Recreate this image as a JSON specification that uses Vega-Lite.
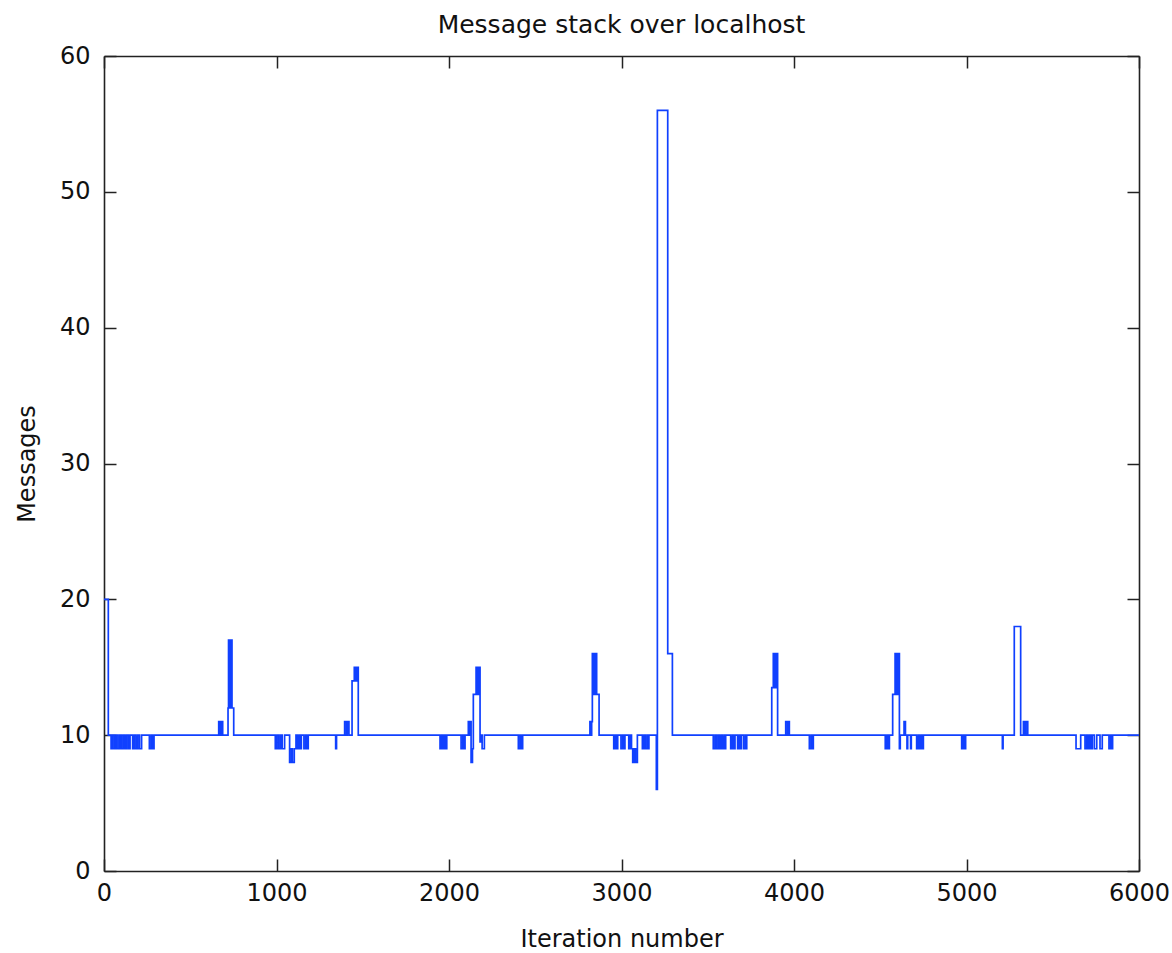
{
  "$schema": "https://vega.github.io/schema/vega-lite/v6.json",
  "autosize": {"type": "none"},
  "padding": {"left": 104, "top": 56, "right": 33, "bottom": 82},
  "width": 1035,
  "height": 815,
  "background": "white",
  "config": {
    "view": {"stroke": null},
    "font": "DejaVu Sans",
    "axis": {"grid": false, "domainColor": "#222", "domainWidth": 1.6, "tickColor": "#222", "tickWidth": 1.5, "labelColor": "#111", "titleColor": "#111", "labelFontSize": 24, "titleFontSize": 24, "titleFontWeight": "normal", "labelFont": "DejaVu Sans", "titleFont": "DejaVu Sans"}
  },
  "title": {"text": "Message stack over localhost", "fontSize": 25, "fontWeight": "normal", "font": "DejaVu Sans", "color": "#111", "offset": 6},
  "data": {"values": [
    {"i":0,"m":20},{"i":25,"m":10},
    {"i":41,"m":9},{"i":51,"m":10},{"i":61,"m":9},{"i":71,"m":10},{"i":81,"m":9},{"i":91,"m":10},{"i":101,"m":9},{"i":111,"m":10},{"i":121,"m":9},{"i":131,"m":10},{"i":141,"m":9},{"i":151,"m":10},
    {"i":166,"m":9},{"i":176,"m":10},{"i":186,"m":9},{"i":196,"m":10},{"i":206,"m":9},{"i":218,"m":10},
    {"i":263,"m":9},{"i":273,"m":10},{"i":280,"m":9},{"i":290,"m":10},
    {"i":665,"m":11},{"i":675,"m":10},{"i":679,"m":11},{"i":688,"m":10},
    {"i":719,"m":12},{"i":722,"m":17},{"i":728,"m":12},{"i":731,"m":17},{"i":737,"m":12},{"i":740,"m":17},{"i":742,"m":12},{"i":752,"m":10},
    {"i":993,"m":9},{"i":1003,"m":10},{"i":1013,"m":9},{"i":1023,"m":10},{"i":1033,"m":9},{"i":1047,"m":10},
    {"i":1076,"m":8},{"i":1086,"m":9},{"i":1092,"m":8},{"i":1103,"m":9},{"i":1113,"m":10},{"i":1121,"m":9},{"i":1131,"m":10},{"i":1136,"m":9},{"i":1144,"m":10},
    {"i":1159,"m":9},{"i":1169,"m":10},{"i":1174,"m":9},{"i":1184,"m":10},
    {"i":1343,"m":9},{"i":1348,"m":10},
    {"i":1395,"m":11},{"i":1405,"m":10},{"i":1410,"m":11},{"i":1420,"m":10},
    {"i":1438,"m":14},{"i":1451,"m":15},{"i":1456,"m":14},{"i":1460,"m":15},{"i":1465,"m":14},{"i":1468,"m":15},{"i":1474,"m":10},
    {"i":1948,"m":9},{"i":1958,"m":10},{"i":1966,"m":9},{"i":1976,"m":10},{"i":1980,"m":9},{"i":1987,"m":10},
    {"i":2070,"m":9},{"i":2080,"m":10},{"i":2085,"m":9},{"i":2093,"m":10},
    {"i":2112,"m":11},{"i":2120,"m":10},{"i":2124,"m":11},{"i":2128,"m":8},{"i":2136,"m":9},{"i":2141,"m":13},{"i":2157,"m":15},{"i":2162,"m":13},{"i":2166,"m":15},{"i":2172,"m":13},{"i":2176,"m":15},{"i":2180,"m":9.5},{"i":2186,"m":10},{"i":2192,"m":9},{"i":2205,"m":10},
    {"i":2402,"m":9},{"i":2412,"m":10},{"i":2417,"m":9},{"i":2427,"m":10},
    {"i":2817,"m":11},{"i":2824,"m":10},{"i":2827,"m":11},{"i":2831,"m":16},{"i":2836,"m":13},{"i":2840,"m":16},{"i":2846,"m":13},{"i":2850,"m":16},{"i":2856,"m":13},{"i":2870,"m":10},
    {"i":2955,"m":9},{"i":2965,"m":10},{"i":2970,"m":9},{"i":2978,"m":10},
    {"i":2997,"m":9},{"i":3007,"m":10},{"i":3012,"m":9},{"i":3020,"m":10},
    {"i":3042,"m":9},{"i":3052,"m":10},{"i":3058,"m":9},{"i":3065,"m":8},{"i":3075,"m":9},{"i":3082,"m":8},{"i":3092,"m":10},
    {"i":3121,"m":9},{"i":3131,"m":10},{"i":3138,"m":9},{"i":3148,"m":10},{"i":3152,"m":9},{"i":3159,"m":10},
    {"i":3202,"m":6},{"i":3208,"m":56},{"i":3268,"m":16},{"i":3295,"m":10},
    {"i":3532,"m":9},{"i":3542,"m":10},{"i":3550,"m":9},{"i":3560,"m":10},{"i":3568,"m":9},{"i":3578,"m":10},{"i":3586,"m":9},{"i":3596,"m":10},{"i":3600,"m":9},{"i":3604,"m":10},
    {"i":3633,"m":9},{"i":3643,"m":10},{"i":3648,"m":9},{"i":3658,"m":10},
    {"i":3673,"m":9},{"i":3683,"m":10},{"i":3688,"m":9},{"i":3695,"m":10},{"i":3708,"m":9},{"i":3718,"m":10},{"i":3722,"m":9},{"i":3726,"m":10},
    {"i":3871,"m":13.5},{"i":3880,"m":16},{"i":3885,"m":13.5},{"i":3889,"m":16},{"i":3895,"m":13.5},{"i":3899,"m":16},{"i":3905,"m":10},
    {"i":3952,"m":11},{"i":3962,"m":10},{"i":3966,"m":11},{"i":3973,"m":10},
    {"i":4089,"m":9},{"i":4099,"m":10},{"i":4104,"m":9},{"i":4112,"m":10},
    {"i":4529,"m":9},{"i":4539,"m":10},{"i":4544,"m":9},{"i":4553,"m":10},
    {"i":4572,"m":13},{"i":4586,"m":16},{"i":4591,"m":13},{"i":4595,"m":16},{"i":4601,"m":13},{"i":4605,"m":16},{"i":4611,"m":9},{"i":4616,"m":10},{"i":4638,"m":11},{"i":4646,"m":10},{"i":4655,"m":9},{"i":4659,"m":10},{"i":4676,"m":9},{"i":4680,"m":10},{"i":4711,"m":9},{"i":4721,"m":10},{"i":4728,"m":9},{"i":4738,"m":10},{"i":4743,"m":9},{"i":4750,"m":10},
    {"i":4972,"m":9},{"i":4982,"m":10},{"i":4987,"m":9},{"i":4995,"m":10},
    {"i":5208,"m":9},{"i":5212,"m":10},
    {"i":5277,"m":18},{"i":5314,"m":10},
    {"i":5330,"m":11},{"i":5340,"m":10},{"i":5345,"m":11},{"i":5355,"m":10},
    {"i":5635,"m":9},{"i":5662,"m":10},{"i":5687,"m":9},{"i":5697,"m":10},{"i":5705,"m":9},{"i":5715,"m":10},{"i":5720,"m":9},{"i":5729,"m":10},{"i":5741,"m":9},{"i":5755,"m":10},{"i":5774,"m":9},{"i":5787,"m":10},{"i":5826,"m":9},{"i":5836,"m":10},{"i":5840,"m":9},{"i":5847,"m":10},
    {"i":6000,"m":10}
  ]},
  "layer": [
    {
      "mark": {"type": "line", "interpolate": "step-after", "color": "#1040ff", "strokeWidth": 1.7, "clip": true},
      "encoding": {
        "x": {"field": "i", "type": "quantitative", "scale": {"domain": [0, 6000], "nice": false, "zero": false},
          "axis": {"orient": "bottom", "title": "Iteration number", "values": [0,1000,2000,3000,4000,5000,6000], "tickSize": -12, "labelPadding": 22, "titlePadding": 22, "format": "d", "labelFlush": false}},
        "y": {"field": "m", "type": "quantitative", "scale": {"domain": [0, 60], "nice": false},
          "axis": {"orient": "left", "title": "Messages", "values": [0,10,20,30,40,50,60], "tickSize": -12, "labelPadding": 26, "titlePadding": 20, "format": "d", "labelFlush": false}}
      }
    },
    {
      "mark": {"type": "line", "interpolate": "step-after", "strokeOpacity": 0},
      "encoding": {
        "x": {"field": "i", "type": "quantitative", "scale": {"domain": [0, 6000], "nice": false, "zero": false},
          "axis": {"orient": "top", "title": null, "labels": false, "values": [0,1000,2000,3000,4000,5000,6000], "tickSize": -12}},
        "y": {"field": "m", "type": "quantitative", "scale": {"domain": [0, 60], "nice": false},
          "axis": {"orient": "right", "title": null, "labels": false, "values": [0,10,20,30,40,50,60], "tickSize": -12}}
      }
    }
  ],
  "resolve": {"axis": {"x": "independent", "y": "independent"}}
}
